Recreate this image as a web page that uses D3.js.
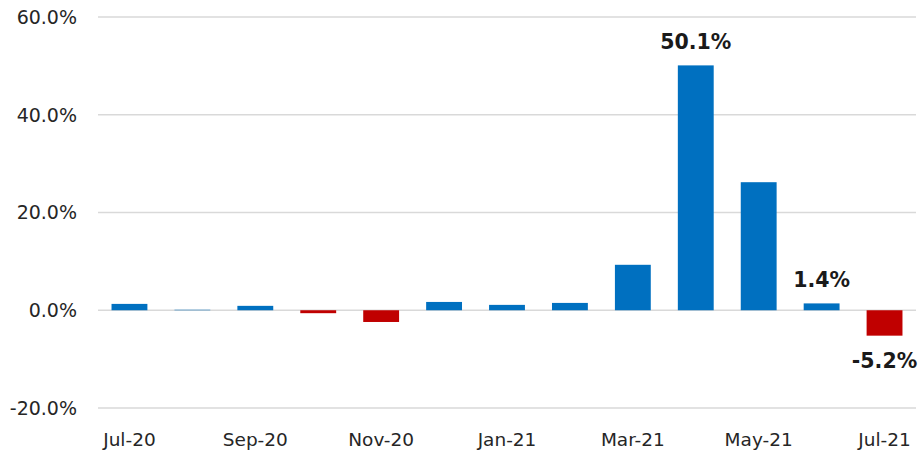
<!DOCTYPE html>
<html>
<head>
<meta charset="utf-8">
<script src="https://cdn.jsdelivr.net/npm/d3@7"></script>
<style>
  body { margin: 0; background: #fff; }
  text { font-family: "DejaVu Sans", "Lato", sans-serif; fill: #262626; }
</style>
</head>
<body>
<div id="chart"></div>
<script>
// meses y variación mensual (%)
const months = ["Jul-20", "Aug-20", "Sep-20", "Oct-20", "Nov-20", "Dec-20", "Jan-21",
                "Feb-21", "Mar-21", "Apr-21", "May-21", "Jun-21", "Jul-21"];
const values = [1.3, 0.1, 0.9, -0.6, -2.4, 1.7, 1.1, 1.5, 9.3, 50.1, 26.2, 1.4, -5.2];
const yTicks = [-20, 0, 20, 40, 60];
const xTickLabels = ["Jul-20", "Sep-20", "Nov-20", "Jan-21", "Mar-21", "May-21", "Jul-21"];
const labelled = ["Apr-21", "Jun-21", "Jul-21"];

const W = 921, H = 454;
const margin = { top: 17, right: 5, bottom: 46, left: 98 };
const width = W - margin.left - margin.right;
const height = H - margin.top - margin.bottom;

// formato con guion normal, no signo menos unicode
const pct = v => v.toFixed(1) + "%";

const svg = d3.select("#chart").append("svg")
    .attr("width", W)
    .attr("height", H)
    .append("g")
    .attr("transform", `translate(${margin.left}, ${margin.top})`);

const x = d3.scaleBand()
    .domain(months)
    .range([0, width])
    .paddingInner(0.43)
    .paddingOuter(0.215);

const y = d3.scaleLinear()
    .domain([-20, 60])
    .range([height, 0]);

// rejilla
svg.append("g")
    .selectAll("line")
    .data(yTicks)
    .enter().append("line")
    .attr("x1", 0)
    .attr("x2", width)
    .attr("y1", d => y(d))
    .attr("y2", d => y(d))
    .attr("stroke", "#d9d9d9")
    .attr("stroke-width", 1.5);

// etiquetas eje Y
svg.append("g")
    .selectAll("text")
    .data(yTicks)
    .enter().append("text")
    .attr("x", -21)
    .attr("y", d => y(d))
    .attr("dy", "0.36em")
    .attr("text-anchor", "end")
    .style("font-size", "19px")
    .text(pct);

// etiquetas eje X
svg.append("g")
    .selectAll("text")
    .data(xTickLabels)
    .enter().append("text")
    .attr("x", d => x(d) + x.bandwidth() / 2)
    .attr("y", height + 38)
    .attr("text-anchor", "middle")
    .style("font-size", "18.5px")
    .text(d => d);

const rows = months.map((m, i) => ({ month: m, value: values[i] }));

// barras
svg.selectAll(".bar")
    .data(rows)
    .enter().append("rect")
    .attr("class", "bar")
    .attr("x", d => x(d.month))
    .attr("y", d => y(Math.max(0, d.value)))
    .attr("width", x.bandwidth())
    .attr("height", d => Math.abs(y(d.value) - y(0)))
    .attr("fill", d => d.value < 0 ? "#C00000" : "#0070C0");

// etiquetas de datos
svg.selectAll(".lbl")
    .data(rows.filter(d => labelled.includes(d.month)))
    .enter().append("text")
    .attr("class", "lbl")
    .attr("x", d => x(d.month) + x.bandwidth() / 2)
    .attr("y", d => d.value < 0 ? y(d.value) + 32 : y(d.value) - 16)
    .attr("text-anchor", "middle")
    .style("font-size", "20.5px")
    .style("font-weight", "bold")
    .style("fill", "#1a1a1a")
    .text(d => pct(d.value));
</script>
</body>
</html>
